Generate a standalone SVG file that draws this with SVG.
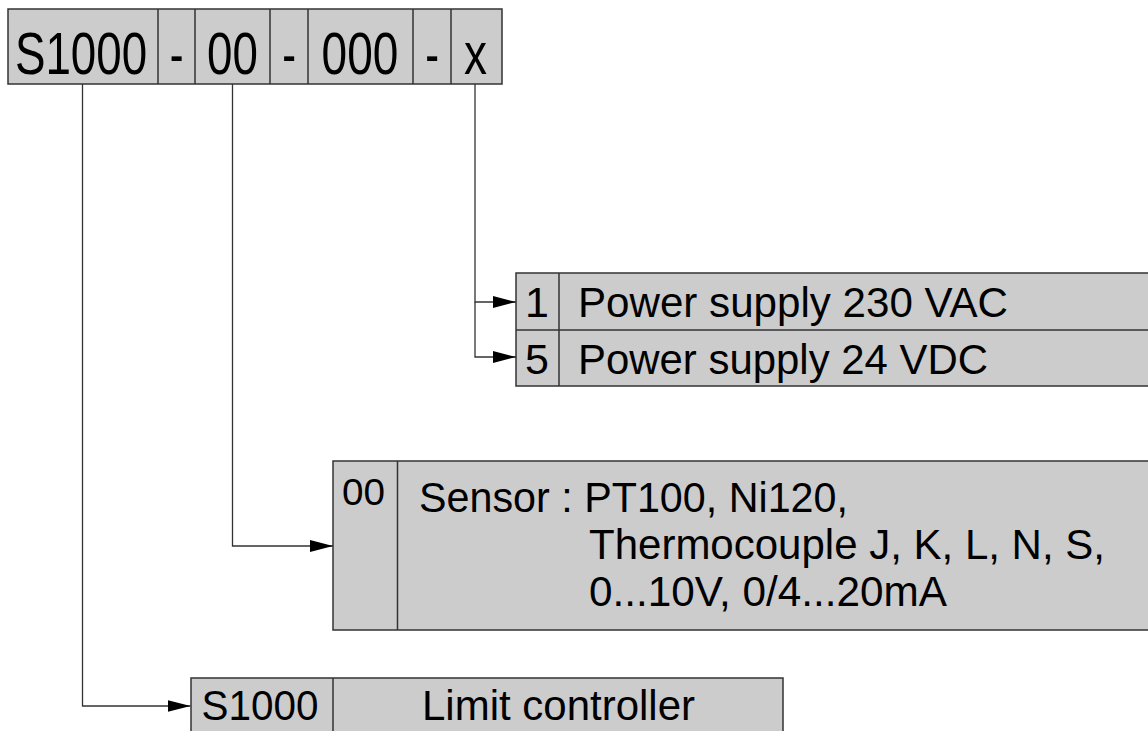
<svg xmlns="http://www.w3.org/2000/svg" width="1148" height="731" viewBox="0 0 1148 731">
  <style>
    .cell { fill: #cccccc; stroke: #333333; stroke-width: 1.5; }
    .div { stroke: #333333; stroke-width: 1.5; fill: none; }
    .conn { stroke: #333333; stroke-width: 1.3; fill: none; }
    .t { font-family: "Liberation Sans", Arial, sans-serif; fill: #000000; }
    .big { font-size: 59px; text-anchor: middle; }
    .mid { font-size: 43px; }
  </style>
  <defs>
    <marker id="arrow" markerUnits="userSpaceOnUse" markerWidth="24" markerHeight="14" refX="23" refY="7" orient="auto">
      <path d="M0,1 L23,7 L0,13 z" fill="#000000"/>
    </marker>
  </defs>

  <g id="code-bar">
    <rect class="cell" x="8" y="9" width="494" height="75"/>
    <line class="div" x1="158" y1="9" x2="158" y2="84"/>
    <line class="div" x1="195" y1="9" x2="195" y2="84"/>
    <line class="div" x1="270" y1="9" x2="270" y2="84"/>
    <line class="div" x1="308" y1="9" x2="308" y2="84"/>
    <line class="div" x1="413" y1="9" x2="413" y2="84"/>
    <line class="div" x1="451" y1="9" x2="451" y2="84"/>
    <text class="t big" transform="translate(81 74) scale(0.775 1)">S1000</text>
    <text class="t big" transform="translate(176.5 74) scale(0.7 1)">-</text>
    <text class="t big" transform="translate(232.5 74) scale(0.775 1)">00</text>
    <text class="t big" transform="translate(289 74) scale(0.7 1)">-</text>
    <text class="t big" transform="translate(360 74) scale(0.78 1)">000</text>
    <text class="t big" transform="translate(432 74) scale(0.7 1)">-</text>
    <text class="t big" transform="translate(475.5 74) scale(0.78 1)">x</text>
  </g>

  <g id="power-supply">
    <rect class="cell" x="516" y="273" width="650" height="113"/>
    <line class="div" x1="516" y1="330" x2="1160" y2="330"/>
    <line class="div" x1="559" y1="273" x2="559" y2="386"/>
    <text class="t mid" x="537" y="317" text-anchor="middle">1</text>
    <text class="t mid" x="578" y="317" textLength="430" lengthAdjust="spacingAndGlyphs">Power supply 230 VAC</text>
    <text class="t mid" x="537" y="374" text-anchor="middle">5</text>
    <text class="t mid" x="578" y="374" textLength="410" lengthAdjust="spacingAndGlyphs">Power supply 24 VDC</text>
  </g>

  <g id="sensor">
    <rect class="cell" x="333" y="461" width="830" height="169"/>
    <line class="div" x1="397.5" y1="461" x2="397.5" y2="630"/>
    <text class="t" font-size="37" x="363.5" y="505" text-anchor="middle" textLength="43" lengthAdjust="spacingAndGlyphs">00</text>
    <text class="t" font-size="42" x="419" y="512" textLength="429" lengthAdjust="spacingAndGlyphs">Sensor : PT100, Ni120,</text>
    <text class="t" font-size="42" x="589" y="559" textLength="516" lengthAdjust="spacingAndGlyphs">Thermocouple J, K, L, N, S,</text>
    <text class="t" font-size="42" x="589" y="606" textLength="358" lengthAdjust="spacingAndGlyphs">0...10V, 0/4...20mA</text>
  </g>

  <g id="limit-controller">
    <rect class="cell" x="191" y="678" width="592" height="70"/>
    <line class="div" x1="333" y1="678" x2="333" y2="740"/>
    <text class="t" font-size="42" x="260" y="720" text-anchor="middle" textLength="117" lengthAdjust="spacingAndGlyphs">S1000</text>
    <text class="t" font-size="42" x="558.5" y="720" text-anchor="middle" textLength="273" lengthAdjust="spacingAndGlyphs">Limit controller</text>
  </g>

  <g id="connectors">
    <polyline class="conn" points="82.5,84 82.5,706 190.5,706" marker-end="url(#arrow)"/>
    <polyline class="conn" points="232.5,84 232.5,546 333,546" marker-end="url(#arrow)"/>
    <polyline class="conn" points="475,84 475,302 516,302" marker-end="url(#arrow)"/>
    <polyline class="conn" points="475,302 475,357 516,357" marker-end="url(#arrow)"/>
  </g>
</svg>
